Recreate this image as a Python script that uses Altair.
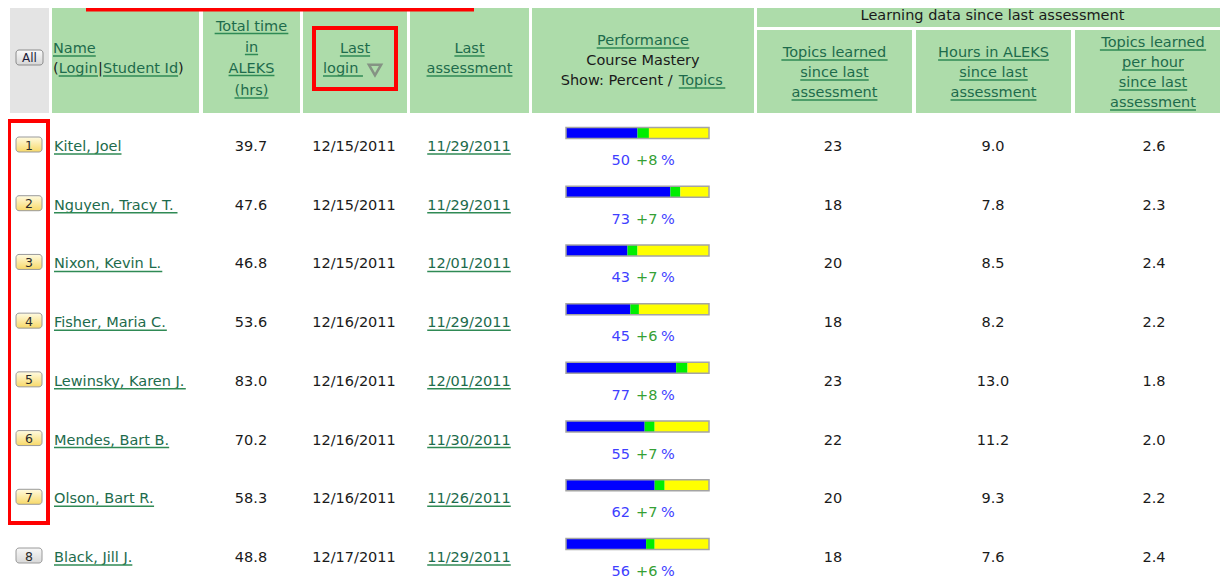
import altair as alt
import pandas as pd

# ---------------- data ----------------
student_names = ["Kitel, Joel", "Nguyen, Tracy T.", "Nixon, Kevin L.", "Fisher, Maria C.",
                 "Lewinsky, Karen J.", "Mendes, Bart B.", "Olson, Bart R.", "Black, Jill J."]
total_hours = [39.7, 47.6, 46.8, 53.6, 83.0, 70.2, 58.3, 48.8]
last_login = ["12/15/2011", "12/15/2011", "12/15/2011", "12/16/2011",
              "12/16/2011", "12/16/2011", "12/16/2011", "12/17/2011"]
last_assessment = ["11/29/2011", "11/29/2011", "12/01/2011", "11/29/2011",
                   "12/01/2011", "11/30/2011", "11/26/2011", "11/29/2011"]
mastery_pct = [50, 73, 43, 45, 77, 55, 62, 56]
mastery_gain = [8, 7, 7, 6, 8, 7, 7, 6]
topics_learned = [23, 18, 20, 18, 23, 22, 20, 18]
hours_since = [9.0, 7.8, 8.5, 8.2, 13.0, 11.2, 9.3, 7.6]
topics_per_hour = [2.6, 2.3, 2.4, 2.2, 1.8, 2.0, 2.2, 2.4]
row_selected = [True, True, True, True, True, True, True, False]

# ---------------- styles / layout ----------------
FONT = "DejaVu Sans"
FS = 14.5
PLAIN = "#1a1a1a"
LINK = "#1d6b4c"
ULINE = "#2f8a55"
GREEN = "#addcaa"
GRAY = "#e4e4e4"
RED = "#ff0000"

# reference-pixel scales (page has an 8px margin)
XPX = alt.Scale(domain=[0, 1228], range=[-8, 1220])
YPX = alt.Scale(domain=[0, 588], range=[-8, 580])
YROW = alt.Scale(domain=[1, 8], range=[151 - 8, 562 - 8])
BAR = alt.Scale(domain=[0, 100], range=[566 - 8, 709 - 8])

W = {' ': .318, '(': .390, ')': .390, '|': .337, '/': .337, ',': .318, '.': .318, ':': .337,
     '+': .838, '%': .950}
for c in "0123456789":
    W[c] = .636
W.update(dict(A=.684, B=.686, C=.698, D=.770, E=.632, F=.575, G=.775, H=.752, I=.295, J=.295,
              K=.656, L=.557, M=.863, N=.748, O=.787, P=.603, Q=.787, R=.695, S=.635, T=.611,
              U=.732, V=.684, W=.989, X=.685, Y=.611, Z=.685,
              a=.613, b=.635, c=.550, d=.635, e=.615, f=.352, g=.635, h=.634, i=.278, j=.278,
              k=.579, l=.278, m=.974, n=.634, o=.612, p=.635, q=.635, r=.411, s=.521, t=.392,
              u=.634, v=.592, w=.818, x=.592, y=.592, z=.525))


def tw(s, size=FS):
    return sum(W.get(ch, .6) for ch in s) * size


# ---------------- header ----------------
header_cells = pd.DataFrame(
    [(10, 49, 5, 113, "g"), (52, 199, 5, 113, "c"), (203, 300, 5, 113, "c"),
     (303, 407, 5, 113, "c"), (410, 529, 5, 113, "c"), (532, 754, 5, 113, "c"),
     (757, 1228, 5, 27, "c"), (757, 912, 30, 113, "c"), (916, 1071, 30, 113, "c"),
     (1075, 1228, 30, 113, "c")],
    columns=["x", "x2", "y", "y2", "kind"])

hdr = []  # x, y(baseline), text, kind, align


def stack(cx, lines, kind="link"):
    for t, y in lines:
        hdr.append((cx, y, t, kind, "center"))


def pieces(x0, y, parts):
    x = x0
    for t, kind in parts:
        hdr.append((x, y, t, kind, "left"))
        x += tw(t)


pieces(53, 53, [("Name", "link")])
pieces(53, 73, [("(", "plain"), ("Login", "link"), ("|", "plain"), ("Student Id", "link"), (")", "plain")])
stack(251.5, [("Total time", 30.5), ("in", 51.5), ("ALEKS", 72.5), ("(hrs)", 95)])
stack(355, [("Last", 53)])
pieces(323, 73, [("login", "link")])
stack(469.5, [("Last", 53), ("assessment", 73)])
stack(643, [("Performance", 45)])
stack(643, [("Course Mastery", 65)], "plain")
_show = "Show: Percent / "
pieces(643 - (tw(_show) + tw("Topics")) / 2, 85, [(_show, "plain"), ("Topics", "link")])
stack(992.5, [("Learning data since last assessment", 20)], "plain")
stack(834.5, [("Topics learned", 57), ("since last", 77), ("assessment", 97)])
stack(993.5, [("Hours in ALEKS", 57), ("since last", 77), ("assessment", 97)])
stack(1153, [("Topics learned", 47), ("per hour", 67), ("since last", 87), ("assessment", 107)])
hdr_df = pd.DataFrame(hdr, columns=["x", "y", "t", "kind", "align"])

ul = []
for x, y, t, kind, align in hdr:
    if kind != "link":
        continue
    w = tw(t + (" " if t == "login" else ""))
    x1 = x if align == "left" else x - w / 2
    ul.append((x1, x1 + w, y + 3))
hdr_ul = pd.DataFrame(ul, columns=["x", "x2", "y"])

# ---------------- body ----------------
cols = [  # anchor x, align, kind, values
    (54, "left", "link", student_names),
    (251, "center", "plain", [f"{v:.1f}" for v in total_hours]),
    (354, "center", "plain", last_login),
    (469, "center", "link", last_assessment),
    (833, "center", "plain", [str(v) for v in topics_learned]),
    (993, "center", "plain", [f"{v:.1f}" for v in hours_since]),
    (1154, "center", "plain", [f"{v:.1f}" for v in topics_per_hour]),
]
body = []
for x, align, kind, vals in cols:
    for i, v in enumerate(vals):
        body.append((i + 1, x, v, kind, align))
body_df = pd.DataFrame(body, columns=["row", "x", "t", "kind", "align"])
bul = []
for r, x, t, kind, align in body:
    if kind == "link":
        w = tw(t)
        x1 = x if align == "left" else x - w / 2
        bul.append((r, x1, x1 + w))
body_ul = pd.DataFrame(bul, columns=["row", "x", "x2"])

perf = pd.DataFrame({"row": range(1, 9), "m": mastery_pct, "g": mastery_gain,
                     "sel": row_selected, "num": [str(i) for i in range(1, 9)]})
perf["end"] = perf["m"] + perf["g"]
perf["zero"] = 0
perf["full"] = 100
perf["mt"] = perf["m"].astype(str)
perf["gt"] = "+" + perf["g"].astype(str)
perf["pc"] = "%"

COLOR_KIND = alt.Color("kind:N", scale=alt.Scale(domain=["plain", "link"], range=[PLAIN, LINK]), legend=None)


def xpx(f="x"):
    return alt.X(f"{f}:Q", scale=XPX, axis=None)


def ypx(f="y"):
    return alt.Y(f"{f}:Q", scale=YPX, axis=None)


def yrow():
    return alt.Y("row:Q", scale=YROW, axis=None)


layers = []
# header backgrounds
layers.append(alt.Chart(header_cells).mark_rect().encode(
    x=xpx(), x2="x2:Q", y=ypx(), y2="y2:Q",
    fill=alt.Fill("kind:N", scale=alt.Scale(domain=["g", "c"], range=[GRAY, GREEN]), legend=None)))
# header text
for al in ["left", "center"]:
    layers.append(alt.Chart(hdr_df).transform_filter(alt.datum.align == al).mark_text(
        align=al, baseline="alphabetic", font=FONT, fontSize=FS).encode(
        x=xpx(), y=ypx(), text="t:N", color=COLOR_KIND))
layers.append(alt.Chart(hdr_ul).mark_rule(color=ULINE, strokeWidth=1.5).encode(
    x=xpx(), x2="x2:Q", y=ypx()))
# filter icon
layers.append(alt.Chart(pd.DataFrame({"x": [375], "y": [70]})).mark_point(
    shape="triangle-down", size=150, filled=False, stroke="#757575", strokeWidth=2.5).encode(
    x=xpx(), y=ypx()))
# "All" button
layers.append(alt.Chart(pd.DataFrame({"x": [16], "x2": [43], "y": [50], "y2": [65]})).mark_rect(
    cornerRadius=3, stroke="#8c8c8c", strokeWidth=1,
    fill={"gradient": "linear", "x1": 0, "y1": 0, "x2": 0, "y2": 1,
          "stops": [{"offset": 0, "color": "#fafafa"}, {"offset": 1, "color": "#d6d6d6"}]}).encode(
    x=xpx(), x2="x2:Q", y=ypx(), y2="y2:Q"))
layers.append(alt.Chart(pd.DataFrame({"x": [29.5], "y": [62], "t": ["All"]})).mark_text(
    align="center", baseline="alphabetic", font=FONT, fontSize=12, color="#1c1c3a").encode(
    x=xpx(), y=ypx(), text="t:N"))

# body text
for al in ["left", "center"]:
    layers.append(alt.Chart(body_df).transform_filter(alt.datum.align == al).mark_text(
        align=al, baseline="alphabetic", font=FONT, fontSize=FS).encode(
        x=xpx(), y=yrow(), text="t:N", color=COLOR_KIND))
layers.append(alt.Chart(body_ul).mark_rule(color=ULINE, strokeWidth=1.5, yOffset=3).encode(
    x=xpx(), x2="x2:Q", y=yrow()))

# row number buttons
yellow = {"gradient": "linear", "x1": 0, "y1": 0, "x2": 0, "y2": 1,
          "stops": [{"offset": 0, "color": "#fffbe2"}, {"offset": 1, "color": "#f8d968"}]}
grayg = {"gradient": "linear", "x1": 0, "y1": 0, "x2": 0, "y2": 1,
         "stops": [{"offset": 0, "color": "#f8f8f8"}, {"offset": 1, "color": "#d8d8d8"}]}
btn = perf.assign(bx=16, bx2=42)
for sel, fillg in [(True, yellow), (False, grayg)]:
    layers.append(alt.Chart(btn).transform_filter(alt.datum.sel == sel).mark_rect(
        cornerRadius=3, stroke="#9a9a9a", strokeWidth=1, fill=fillg, yOffset=-14, y2Offset=1).encode(
        x=xpx("bx"), x2="bx2:Q", y=yrow(), y2="row:Q"))
layers.append(alt.Chart(btn.assign(bx=29)).mark_text(
    align="center", baseline="alphabetic", font=FONT, fontSize=12.5, color="#2a2a2a", dy=-1.5).encode(
    x=xpx("bx"), y=yrow(), text="num:N"))

# performance bars
bar_y = dict(yOffset=-23.5, y2Offset=-12.5)
for f1, f2, col in [("zero", "m", "#0000ff"), ("m", "end", "#00ee00"), ("end", "full", "#ffff00")]:
    layers.append(alt.Chart(perf).mark_rect(color=col, **bar_y).encode(
        x=alt.X(f"{f1}:Q", scale=BAR, axis=None), x2=f"{f2}:Q", y=yrow(), y2="row:Q"))
layers.append(alt.Chart(perf).mark_rect(fillOpacity=0, stroke="#a4a4a4", strokeWidth=1.5, **bar_y).encode(
    x=alt.X("zero:Q", scale=BAR, axis=None), x2="full:Q", y=yrow(), y2="row:Q"))
# percent labels
for f, al, xa, col in [("mt", "right", 630, "#3f3fff"), ("gt", "left", 636, "#35a035"), ("pc", "left", 661, "#3f3fff")]:
    layers.append(alt.Chart(perf.assign(px=xa)).mark_text(
        align=al, baseline="alphabetic", font=FONT, fontSize=FS, color=col, dy=14).encode(
        x=xpx("px"), y=yrow(), text=f"{f}:N"))

# red highlight boxes
boxes = pd.DataFrame({"x": [88, 314, 9], "x2": [472, 396, 48], "y": [-20, 28, 121], "y2": [9.5, 89, 523]})
layers.append(alt.Chart(boxes).mark_rect(fillOpacity=0, stroke=RED, strokeWidth=4).encode(
    x=xpx(), x2="x2:Q", y=ypx(), y2="y2:Q"))

chart = alt.layer(*layers).resolve_scale(
    x="independent", y="independent", color="independent", fill="independent"
).properties(
    width=1212, height=572, padding=0, background="white",
    autosize=alt.AutoSizeParams(type="none")
).configure_view(strokeWidth=0)

chart.save("out.html", embed_options={"renderer": "svg", "actions": False})
